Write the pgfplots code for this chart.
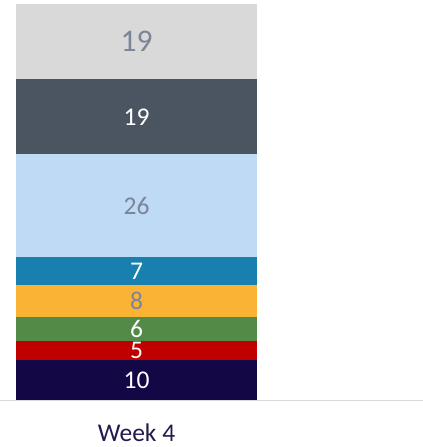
\documentclass[border=0pt]{standalone}
\usepackage{pgfplots}
\pgfplotsset{compat=1.18}
\usepackage{fontspec}
\setmainfont{Carlito}

\definecolor{cTop}{HTML}{D9D9D9}
\definecolor{cSlate}{HTML}{4B5562}
\definecolor{cSky}{HTML}{BFDAF5}
\definecolor{cBlue}{HTML}{1780AF}
\definecolor{cOrange}{HTML}{FBB335}
\definecolor{cGreen}{HTML}{528B48}
\definecolor{cRed}{HTML}{C00000}
\definecolor{cNavy}{HTML}{140746}
\definecolor{labgray}{HTML}{7A8599}
\definecolor{weekcol}{HTML}{1F1A4F}

\tikzset{
    seg/.style={fill=#1, draw=none},
}

\begin{document}
\begin{tikzpicture}
    \path[use as bounding box] (0,-47bp) rectangle (423bp,400bp);
    \begin{axis}[
        scale only axis,
        width=423bp, height=396bp,
        ybar stacked,
        bar width=241bp,
        xmin=-136.5, xmax=286.5,
        ymin=0, ymax=100,
        enlargelimits=false,
        axis x line*=bottom,
        axis y line=none,
        axis line style={draw=cTop, line width=1bp},
        major tick length=0pt,
        xtick={0}, xticklabels={Week 4},
        xticklabel style={text=weekcol, font=\fontsize{25.5bp}{30bp}\selectfont, inner sep=0pt, yshift=-24bp},
        point meta=rawy,
        nodes near coords={\pgfmathprintnumber[assume math mode=true]{\pgfplotspointmeta}},
        every node near coord/.append style={anchor=center, inner sep=0pt, font=\fontsize{25.5bp}{30bp}\selectfont, text=white},
        ]
        % bottom to top; labels land in the middle of each block
        \addplot[seg=cNavy] coordinates {(0,10)};
        \addplot[seg=cRed] coordinates {(0,5)};
        \addplot[seg=cGreen] coordinates {(0,6)};
        \addplot[seg=cOrange, every node near coord/.append style={text=labgray}] coordinates {(0,8)};
        \addplot[seg=cBlue] coordinates {(0,7)};
        \addplot[seg=cSky, every node near coord/.append style={text=labgray}] coordinates {(0,26)};
        \addplot[seg=cSlate] coordinates {(0,19)};
        \addplot[seg=cTop, every node near coord/.append style={text=labgray, font=\fontsize{31.5bp}{36bp}\selectfont}] coordinates {(0,19)};
    \end{axis}
\end{tikzpicture}
\end{document}
